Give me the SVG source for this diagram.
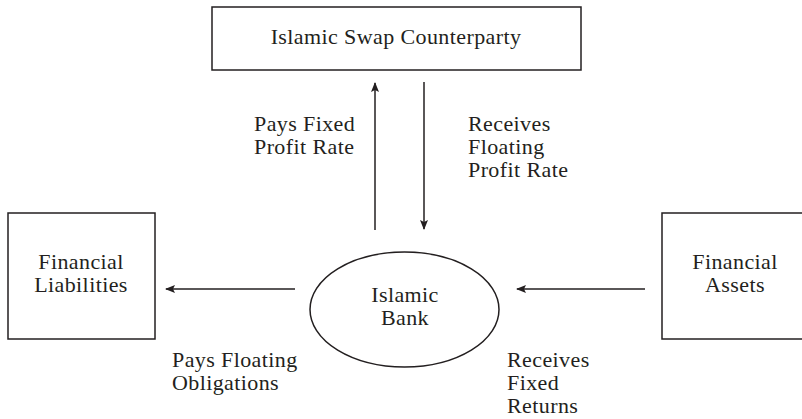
<svg xmlns="http://www.w3.org/2000/svg" width="802" height="419" viewBox="0 0 802 419">
<style>
text{font-family:"Liberation Serif","Times New Roman",serif;font-size:22px;fill:#231f20;letter-spacing:0.4px}
.c{text-anchor:middle}
.box{fill:#fff;stroke:#231f20;stroke-width:1.5}
.ln{stroke:#231f20;stroke-width:1.5;fill:none}
</style>
<defs>
<marker id="ah" viewBox="0 0 10 8" refX="9" refY="4" markerWidth="10" markerHeight="8" markerUnits="userSpaceOnUse" orient="auto">
<path d="M0,0 L10,4 L0,8 L2,4 Z" fill="#231f20"/>
</marker>
</defs>
<rect width="802" height="419" fill="#fff"/>
<g id="counterparty">
<rect class="box" x="212" y="7" width="369" height="63"/>
<text class="c" x="396" y="44">Islamic Swap Counterparty</text>
</g>
<g id="liabilities">
<rect class="box" x="8" y="213" width="147" height="126"/>
<text class="c" x="81" y="269">Financial</text>
<text class="c" x="81" y="292">Liabilities</text>
</g>
<g id="bank">
<ellipse class="box" cx="404.5" cy="309.5" rx="94.5" ry="57.5"/>
<text class="c" x="405" y="302">Islamic</text>
<text class="c" x="405" y="325">Bank</text>
</g>
<g id="assets">
<rect class="box" x="662" y="213" width="160" height="126"/>
<text class="c" x="735" y="269">Financial</text>
<text class="c" x="735" y="292">Assets</text>
</g>
<g id="connectors">
<line class="ln" x1="375" y1="230" x2="375" y2="83" marker-end="url(#ah)"/>
<line class="ln" x1="424" y1="82" x2="424" y2="229" marker-end="url(#ah)"/>
<line class="ln" x1="295" y1="289" x2="166" y2="289" marker-end="url(#ah)"/>
<line class="ln" x1="645" y1="289" x2="517" y2="289" marker-end="url(#ah)"/>
</g>
<g id="labels">
<text x="254" y="131">Pays Fixed</text>
<text x="254" y="154">Profit Rate</text>
<text x="468" y="131">Receives</text>
<text x="468" y="154">Floating</text>
<text x="468" y="177">Profit Rate</text>
<text x="172" y="367">Pays Floating</text>
<text x="172" y="390">Obligations</text>
<text x="507" y="367">Receives</text>
<text x="507" y="390">Fixed</text>
<text x="507" y="413">Returns</text>
</g>
</svg>
